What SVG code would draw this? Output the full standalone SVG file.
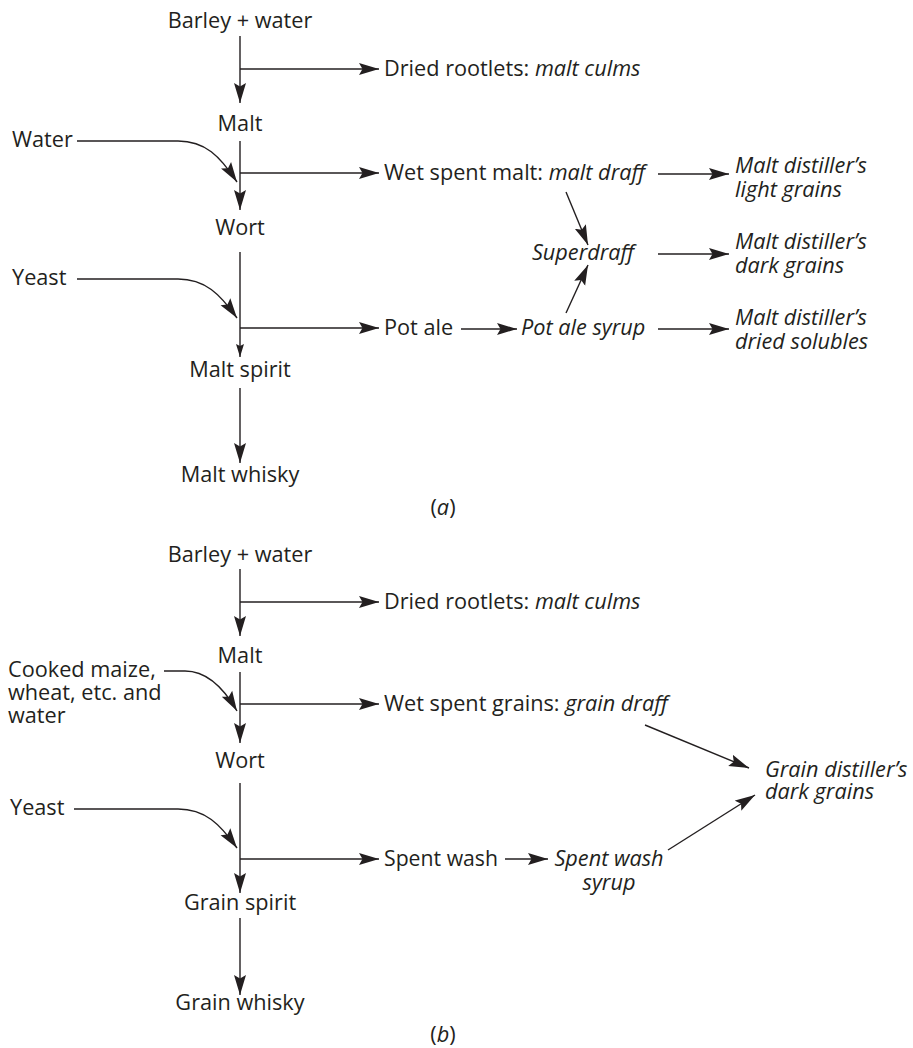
<svg xmlns="http://www.w3.org/2000/svg" width="913" height="1048" viewBox="0 0 913 1048">
<defs>
<marker id="ah" markerUnits="userSpaceOnUse" markerWidth="22" markerHeight="14" refX="20" refY="0" viewBox="0 -7 22 14" orient="auto">
<path d="M0,-6 L20,0 L0,6 L3.5,0 Z" fill="#231f20"/>
</marker>
<marker id="ahs" markerUnits="userSpaceOnUse" markerWidth="14" markerHeight="10" refX="13" refY="0" viewBox="0 -5 14 10" orient="auto">
<path d="M0,-4 L13,0 L0,4 L2,0 Z" fill="#231f20"/>
</marker>
</defs>
<style>
text{font-family:"Open Sans","Noto Sans","Liberation Sans",sans-serif;font-size:21.7px;fill:#231f20}
.c{text-anchor:middle}
.i{font-style:italic}
.ln{fill:none;stroke:#231f20;stroke-width:1.4}
</style>
<rect width="913" height="1048" fill="#fff"/>
<g id="connectors">
<path class="ln" d="M240,36 V103" marker-end="url(#ah)"/>
<path class="ln" d="M240,69 H379" marker-end="url(#ah)"/>
<path class="ln" d="M240,141 V210" marker-end="url(#ah)"/>
<path class="ln" d="M240,173 H379" marker-end="url(#ah)"/>
<path class="ln" d="M77,141 H178 C205,141 220,156 237,182" marker-end="url(#ah)"/>
<path class="ln" d="M240,252 V357" marker-end="url(#ahs)"/>
<path class="ln" d="M240,328 H379" marker-end="url(#ah)"/>
<path class="ln" d="M77,279 H178 C205,279 220,294 237,318" marker-end="url(#ah)"/>
<path class="ln" d="M240,388 V463" marker-end="url(#ah)"/>
<path class="ln" d="M658,174 H729" marker-end="url(#ah)"/>
<path class="ln" d="M566,192 L588,245" marker-end="url(#ah)"/>
<path class="ln" d="M658,254 H729" marker-end="url(#ah)"/>
<path class="ln" d="M566,313 L588,265" marker-end="url(#ah)"/>
<path class="ln" d="M461,329 H517" marker-end="url(#ah)"/>
<path class="ln" d="M658,329 H729" marker-end="url(#ah)"/>
<path class="ln" d="M240,569 V636" marker-end="url(#ah)"/>
<path class="ln" d="M240,602 H379" marker-end="url(#ah)"/>
<path class="ln" d="M240,672 V743" marker-end="url(#ah)"/>
<path class="ln" d="M240,704 H379" marker-end="url(#ah)"/>
<path class="ln" d="M164,671 H185 C205,671 222,685 237,711" marker-end="url(#ah)"/>
<path class="ln" d="M240,783 V893" marker-end="url(#ah)"/>
<path class="ln" d="M240,859 H379" marker-end="url(#ah)"/>
<path class="ln" d="M74,809 H178 C205,809 220,824 237,848" marker-end="url(#ah)"/>
<path class="ln" d="M240,918 V995" marker-end="url(#ah)"/>
<path class="ln" d="M645,725 L749,768" marker-end="url(#ah)"/>
<path class="ln" d="M668,850 L755,795" marker-end="url(#ah)"/>
<path class="ln" d="M505,859 H548" marker-end="url(#ah)"/>
</g>
<g id="a-barley"><text class="c" x="240" y="28">Barley + water</text></g>
<g id="a-rootlets"><text x="384" y="76">Dried rootlets: <tspan class="i">malt culms</tspan></text></g>
<g id="a-malt"><text class="c" x="240" y="131">Malt</text></g>
<g id="a-water"><text x="12" y="147">Water</text></g>
<g id="a-wetspent"><text x="384" y="180">Wet spent malt: <tspan class="i">malt draff</tspan></text></g>
<g id="a-light"><text class="i" x="735" y="173">Malt distiller’s</text><text class="i" x="735" y="197">light grains</text></g>
<g id="a-wort"><text class="c" x="240" y="235">Wort</text></g>
<g id="a-superdraff"><text class="i c" x="583" y="260">Superdraff</text></g>
<g id="a-dark"><text class="i" x="735" y="249">Malt distiller’s</text><text class="i" x="735" y="273">dark grains</text></g>
<g id="a-yeast"><text x="12" y="285">Yeast</text></g>
<g id="a-potale"><text x="384" y="335">Pot ale</text></g>
<g id="a-syrup"><text class="i" x="521" y="335">Pot ale syrup</text></g>
<g id="a-solubles"><text class="i" x="735" y="325">Malt distiller’s</text><text class="i" x="735" y="349">dried solubles</text></g>
<g id="a-spirit"><text class="c" x="240" y="377">Malt spirit</text></g>
<g id="a-whisky"><text class="c" x="240" y="482">Malt whisky</text></g>
<g id="a-label"><text class="c" x="443" y="515">(<tspan class="i">a</tspan>)</text></g>
<g id="b-barley"><text class="c" x="240" y="562">Barley + water</text></g>
<g id="b-rootlets"><text x="384" y="609">Dried rootlets: <tspan class="i">malt culms</tspan></text></g>
<g id="b-malt"><text class="c" x="240" y="663">Malt</text></g>
<g id="b-cooked"><text x="8" y="677">Cooked maize,</text><text x="8" y="700">wheat, etc. and</text><text x="8" y="723">water</text></g>
<g id="b-wetspent"><text x="384" y="711">Wet spent grains: <tspan class="i">grain draff</tspan></text></g>
<g id="b-wort"><text class="c" x="240" y="768">Wort</text></g>
<g id="b-dark"><text class="i" x="765" y="777">Grain distiller’s</text><text class="i" x="765" y="799">dark grains</text></g>
<g id="b-yeast"><text x="10" y="815">Yeast</text></g>
<g id="b-spentwash"><text x="384" y="866" textLength="114" lengthAdjust="spacingAndGlyphs">Spent wash</text></g>
<g id="b-syrup"><text class="i c" x="609" y="866">Spent wash</text><text class="i c" x="609" y="890">syrup</text></g>
<g id="b-spirit"><text class="c" x="240" y="910">Grain spirit</text></g>
<g id="b-whisky"><text class="c" x="240" y="1010">Grain whisky</text></g>
<g id="b-label"><text class="c" x="443" y="1042">(<tspan class="i">b</tspan>)</text></g>
</svg>
